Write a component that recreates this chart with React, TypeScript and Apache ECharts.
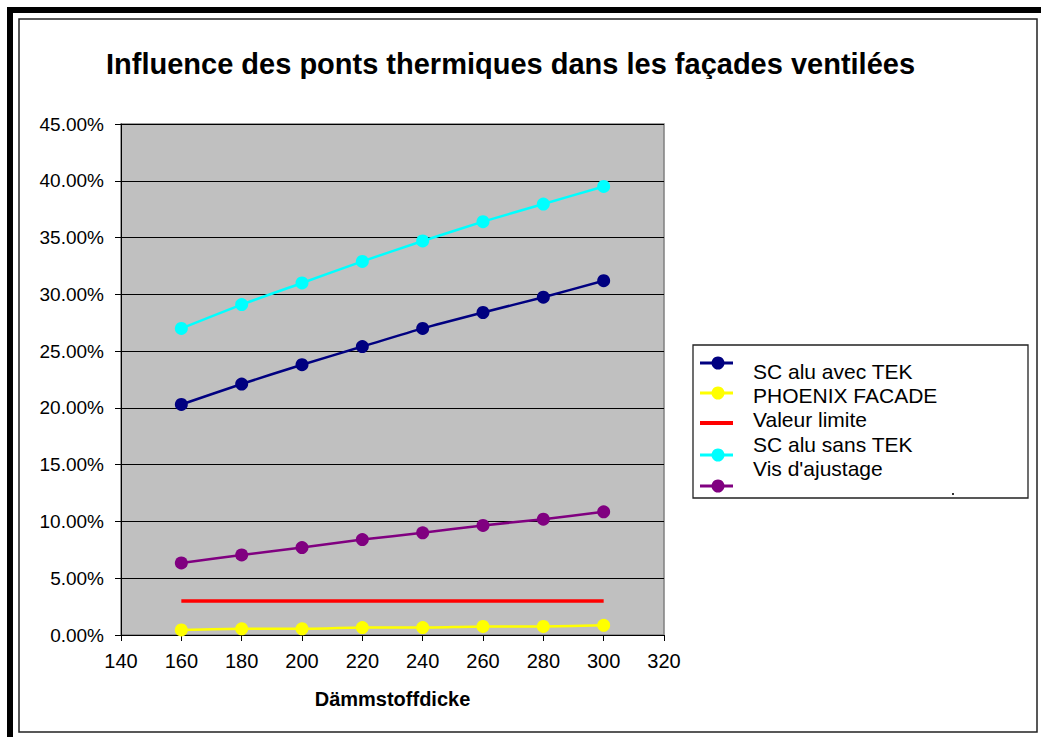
import React, { useEffect, useRef } from "react";
import * as echarts from "echarts";

const xValues = [160, 180, 200, 220, 240, 260, 280, 300];
const scAluAvecTek = [20.3, 22.1, 23.8, 25.4, 27.0, 28.4, 29.75, 31.2];
const phoenixFacade = [0.45, 0.55, 0.55, 0.65, 0.65, 0.75, 0.75, 0.85];
const valeurLimite = [3, 3, 3, 3, 3, 3, 3, 3];
const scAluSansTek = [27.0, 29.1, 31.0, 32.9, 34.7, 36.4, 37.95, 39.5];
const visAjustage = [6.35, 7.05, 7.7, 8.4, 9.0, 9.65, 10.2, 10.85];

const titleText = "Influence des ponts thermiques dans les façades ventilées";
const seriesNames = ["SC alu avec TEK", "PHOENIX FACADE", "Valeur limite", "SC alu sans TEK", "Vis d'ajustage"];
const seriesColors = ["#000080", "#FFFF00", "#FF0000", "#00FFFF", "#800080"];
const seriesData = [scAluAvecTek, phoenixFacade, valeurLimite, scAluSansTek, visAjustage];
const seriesMarkers = [true, true, false, true, true];

const FONT = "'Liberation Sans', Arial, sans-serif";

export default function App() {
  const ref = useRef<HTMLDivElement>(null);
  useEffect(() => {
    if (!ref.current) return;
    const chart = echarts.init(ref.current, null, { renderer: "svg" });

    const series = seriesData.map((vals, i) => ({
      name: seriesNames[i],
      type: "line",
      data: vals.map((v, j) => [xValues[j], v]),
      smooth: 0.2,
      symbol: seriesMarkers[i] ? "circle" : "none",
      symbolSize: 13,
      showSymbol: seriesMarkers[i],
      itemStyle: { color: seriesColors[i] },
      lineStyle: { color: seriesColors[i], width: i === 2 ? 3.5 : 2.5 },
      z: 3,
    }));

    // legend drawn with graphic elements (to reproduce the original layout)
    const legendTextY = [371, 395, 419, 444, 468];
    const legendSymY = [363, 393, 423, 455, 486];
    const legendEls: any[] = [
      {
        type: "rect",
        shape: { x: 693, y: 345, width: 335, height: 153 },
        style: { fill: "#FFFFFF", stroke: "#222222", lineWidth: 1.3 },
        z: 10,
      },
      {
        type: "rect",
        shape: { x: 952, y: 493, width: 2, height: 2 },
        style: { fill: "#333333" },
        z: 11,
      },
    ];
    seriesNames.forEach((name, i) => {
      legendEls.push({
        type: "line",
        shape: { x1: 700, y1: legendSymY[i], x2: 733, y2: legendSymY[i] },
        style: { stroke: seriesColors[i], lineWidth: i === 2 ? 4 : 3 },
        z: 11,
      });
      if (seriesMarkers[i]) {
        legendEls.push({
          type: "circle",
          shape: { cx: 718, cy: legendSymY[i], r: 6.5 },
          style: { fill: seriesColors[i] },
          z: 12,
        });
      }
      legendEls.push({
        type: "text",
        x: 753,
        y: legendTextY[i],
        style: {
          text: name,
          fontSize: 21,
          fontFamily: FONT,
          fill: "#000000",
          verticalAlign: "middle",
          align: "left",
        },
        z: 12,
      });
    });

    chart.setOption({
      animation: false,
      backgroundColor: "#FFFFFF",
      grid: {
        left: 121,
        top: 124,
        width: 543,
        height: 511,
        show: true,
        backgroundColor: "#C0C0C0",
        borderColor: "#808080",
        borderWidth: 1.5,
      },
      xAxis: {
        type: "value",
        min: 140,
        max: 320,
        interval: 20,
        name: "Dämmstoffdicke",
        nameLocation: "middle",
        nameGap: 54,
        nameTextStyle: { fontSize: 20, fontWeight: "bold", fontFamily: FONT, color: "#000000" },
        axisLine: { show: true, onZero: false, lineStyle: { color: "#000000", width: 1 } },
        axisTick: { show: true, inside: false, length: 6, lineStyle: { color: "#000000" } },
        axisLabel: { fontSize: 20, fontFamily: FONT, color: "#000000", margin: 16 },
        splitLine: { show: false },
      },
      yAxis: {
        type: "value",
        min: 0,
        max: 45,
        interval: 5,
        axisLine: { show: true, lineStyle: { color: "#000000", width: 1 } },
        axisTick: { show: true, inside: false, length: 6, lineStyle: { color: "#000000" } },
        axisLabel: {
          fontSize: 19,
          fontFamily: FONT,
          color: "#000000",
          margin: 17,
          formatter: (v: number) => v.toFixed(2) + "%",
        },
        splitLine: { show: true, lineStyle: { color: "#000000", width: 1 } },
      },
      series,
      graphic: [
        // title
        {
          type: "text",
          x: 106,
          y: 64,
          style: {
            text: titleText,
            fontSize: 29,
            fontWeight: "bold",
            fontFamily: FONT,
            fill: "#000000",
            align: "left",
            verticalAlign: "middle",
          },
          z: 14,
        },
        // title clipping (as in the original)
        { type: "rect", shape: { x: 100, y: 79, width: 830, height: 20 }, style: { fill: "#FFFFFF" }, z: 15 },
        // outer frame
        { type: "rect", shape: { x: 7, y: 7, width: 1034, height: 6 }, style: { fill: "#000000" }, z: 20 },
        { type: "rect", shape: { x: 7, y: 7, width: 6, height: 730 }, style: { fill: "#000000" }, z: 20 },
        {
          type: "rect",
          shape: { x: 19, y: 19, width: 1018, height: 713 },
          style: { fill: "none", stroke: "#222222", lineWidth: 1.5 },
          z: 20,
        },
        ...legendEls,
      ],
    });
    return () => chart.dispose();
  }, []);
  return (
    <div
      ref={ref}
      style={{ position: "absolute", left: 0, top: 0, width: 1041, height: 737 }}
    />
  );
}
